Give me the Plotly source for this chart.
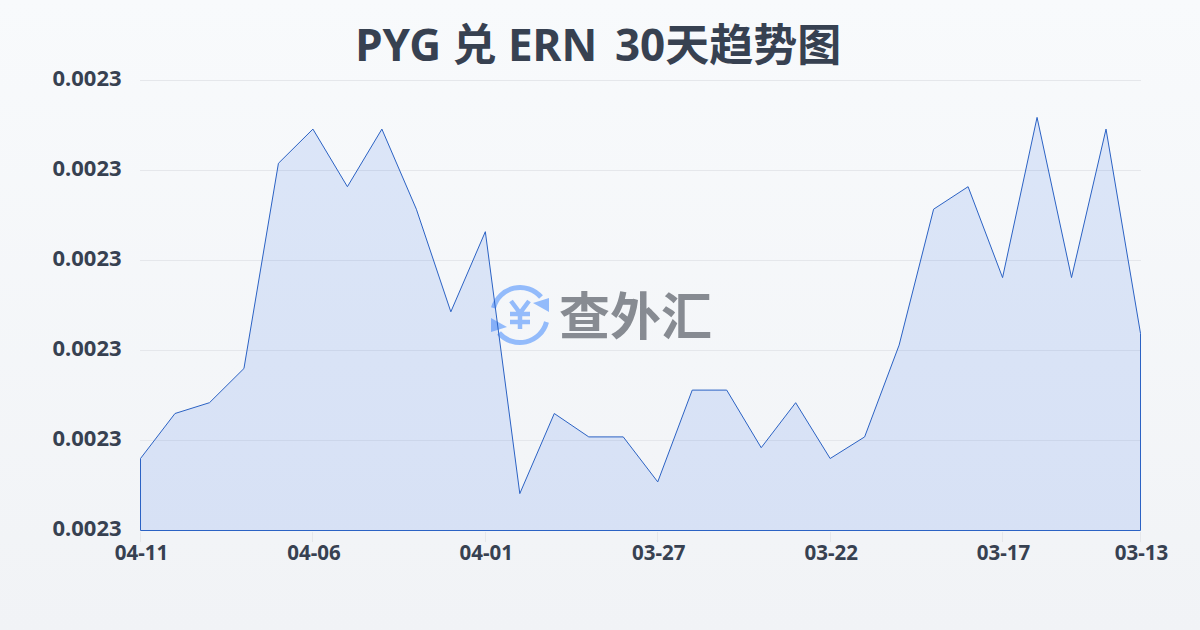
import base64
import plotly.graph_objects as go

TITLE_LEFT = "PYG 兑 ERN "
TITLE_RIGHT = "30天趋势图"
DATES = ["04-11", "04-10", "04-09", "04-08", "04-07", "04-06", "04-05", "04-04", "04-03", "04-02",
         "04-01", "03-31", "03-30", "03-29", "03-28", "03-27", "03-26", "03-25", "03-24", "03-23",
         "03-22", "03-21", "03-20", "03-19", "03-18", "03-17", "03-16", "03-15", "03-14", "03-13"]
RATES = [0.0022880, 0.0022930, 0.0022942, 0.0022980, 0.0023208, 0.0023246, 0.0023182, 0.0023246,
         0.0023157, 0.0023043, 0.0023132, 0.0022841, 0.0022930, 0.0022904, 0.0022904, 0.0022854,
         0.0022956, 0.0022956, 0.0022892, 0.0022942, 0.0022880, 0.0022904, 0.0023006, 0.0023157,
         0.0023182, 0.0023081, 0.0023259, 0.0023081, 0.0023246, 0.0023019]
TICK_DATES = ["04-11", "04-06", "04-01", "03-27", "03-22", "03-17", "03-13"]
Y_MIN, Y_MAX, Y_STEP = 0.00228, 0.00233, 0.00001

FONT = "'Noto Sans', 'Noto Sans CJK SC', sans-serif"
TEXT = "#374151"

svg = """<svg xmlns='http://www.w3.org/2000/svg' width='1200' height='630' viewBox='0 0 1200 630'>
<defs><linearGradient id='g' x1='0' y1='0' x2='0' y2='1'><stop offset='0' stop-color='#f8fafc'/><stop offset='1' stop-color='#f1f3f6'/></linearGradient></defs>
<rect width='1200' height='630' fill='url(#g)'/>
<g fill='none' stroke='#93bbfb' stroke-width='5'>
<path d='M493.5 308 A27.5 27.5 0 0 1 541 297'/>
<path d='M546.5 322 A27.5 27.5 0 0 1 499 333'/>
<path d='M511 301 L520 313 L529 301 M520 313 V329 M510 314 H530 M510 322 H530' stroke-width='4.5'/>
</g>
<path d='M549 298 V312 L533 303 Z M491 332 V318 L507 327 Z' fill='#93bbfb'/>
</svg>"""
bg = "data:image/svg+xml;base64," + base64.b64encode(svg.encode("utf-8")).decode()

idx = list(range(len(DATES)))
last = idx[-1]
xs = idx + [last, 0, 0]
ys = RATES + [Y_MIN, Y_MIN, RATES[0]]

# plot box is 1001x451 px; half-pixel padding puts the outline on the pixel grid
PW, PH = 1001, 451
dx = 0.5 * last / 1000
dy = 0.5 * (Y_MAX - Y_MIN) / 450

fig = go.Figure(go.Scatter(
    x=xs, y=ys, mode="lines", fill="toself",
    fillcolor="rgba(37,99,235,0.13)",
    line=dict(color="#2b62c4", width=1),
    cliponaxis=False, hoverinfo="skip", showlegend=False,
))

fig.update_layout(
    width=1200, height=630,
    margin=dict(l=140, r=59, t=80, b=99, autoexpand=False),
    paper_bgcolor="rgba(0,0,0,0)", plot_bgcolor="rgba(0,0,0,0)",
    font=dict(family=FONT, color=TEXT),
    title=dict(text=f"<b>{TITLE_LEFT}<span style='font-size:24px'> </span>{TITLE_RIGHT}</b>",
               x=0.4985, xanchor="center", y=0.928, yanchor="middle",
               font=dict(size=44, color=TEXT, family=FONT)),
    xaxis=dict(range=[-dx, last + dx], tickmode="array",
               tickvals=[DATES.index(d) for d in TICK_DATES],
               ticktext=[f"<b>{d}</b>" for d in TICK_DATES],
               tickfont=dict(size=20.5, color=TEXT, family=FONT),
               ticks="outside", ticklen=10, tickcolor="#e5e7eb", tickwidth=1,
               ticklabelstandoff=-7, ticklabelshift=1,
               showgrid=False, zeroline=False, showline=False),
    yaxis=dict(range=[Y_MIN - dy, Y_MAX + dy], tickmode="array",
               tickvals=[Y_MIN + i * Y_STEP for i in range(6)],
               ticktext=["<b>0.0023</b>"] * 6,
               tickfont=dict(size=22, color=TEXT, family=FONT),
               ticks="outside", ticklen=13, tickcolor="rgba(0,0,0,0)",
               ticklabelshift=-2,
               showgrid=True, gridcolor="#e5e7eb", gridwidth=1, zeroline=False, showline=False),
    shapes=[dict(type="line", xref="paper", x0=0, x1=1, yref="paper", y0=1 - 0.5 / PH, y1=1 - 0.5 / PH,
                 line=dict(color="#e5e7eb", width=1), layer="below")],
    images=[dict(source=bg, xref="paper", yref="paper", x=-140 / PW, y=1 + 80 / PH,
                 sizex=1200 / PW, sizey=630 / PH, sizing="stretch", xanchor="left", yanchor="top",
                 layer="below")],
    annotations=[dict(text="<b>查外汇</b>", xref="paper", yref="paper",
                      x=(635.5 - 140) / PW, y=(531 - 313) / PH, xanchor="center", yanchor="middle",
                      showarrow=False,
                      font=dict(size=51, color="#878b92", family="'Noto Sans CJK SC'"))],
)
fig.write_html("out.html", config={"displayModeBar": False},
               post_script="document.body.style.margin='0';document.documentElement.style.overflow='hidden';")
